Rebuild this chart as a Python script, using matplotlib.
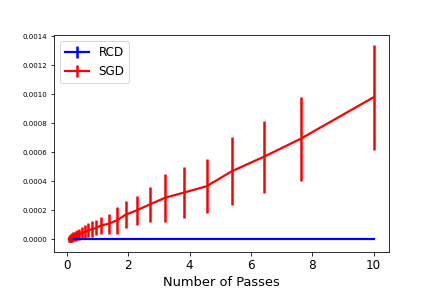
import matplotlib
matplotlib.use("Agg")
import matplotlib.pyplot as plt
import numpy as np

# number of passes
passes = [0.07, 0.085, 0.1, 0.12, 0.14, 0.17, 0.2, 0.24, 0.285, 0.34, 0.40, 0.48,
          0.57, 0.68, 0.82, 0.96, 1.11, 1.36, 1.62, 1.91, 2.27, 2.7, 3.2, 3.82,
          4.55, 5.38, 6.42, 7.62, 10.0]

sgd_mean = [0.000004, 0.000005, 0.000007, 0.000009, 0.000011, 0.000014, 0.000017,
            0.00002, 0.000025, 0.00003, 0.000035, 0.000043, 0.000052, 0.000062,
            0.000071, 0.00008, 0.000096, 0.000108, 0.000131, 0.00017, 0.0002,
            0.000241, 0.000287, 0.000323, 0.000366, 0.00047, 0.000569, 0.000693,
            0.000979]
sgd_err = [0.00002, 0.000022, 0.000024, 0.000026, 0.000028, 0.00003, 0.000031,
           0.000033, 0.000035, 0.000037, 0.00004, 0.000042, 0.000045, 0.000048,
           0.000053, 0.000052, 0.000059, 0.000069, 0.000091, 0.000094, 0.000102,
           0.000123, 0.000164, 0.000179, 0.000185, 0.000232, 0.000249, 0.000288,
           0.00036]

rcd_mean = [0.0] * len(passes)
rcd_err = [0.0] * len(passes)

fig = plt.figure(figsize=(6, 4), dpi=72)
ax = fig.add_axes([0.125, 0.126, 0.775, 0.752])

ax.errorbar(passes, rcd_mean, rcd_err, color='blue', linewidth=2.2, elinewidth=2.5, label='RCD')
ax.errorbar(passes, sgd_mean, sgd_err, color='red', linewidth=2.2, elinewidth=2.5, label='SGD')

ax.set_xticks([0, 2, 4, 6, 8, 10])
ax.set_yticks(np.arange(0, 0.00141, 0.0002))
ax.tick_params(axis='x', labelsize=12)
ax.tick_params(axis='y', labelsize=7)
ax.set_xlabel("Number of Passes", fontsize=13)
ax.legend(loc='upper left', fontsize=12)

fig.savefig("out.png", dpi=72)
